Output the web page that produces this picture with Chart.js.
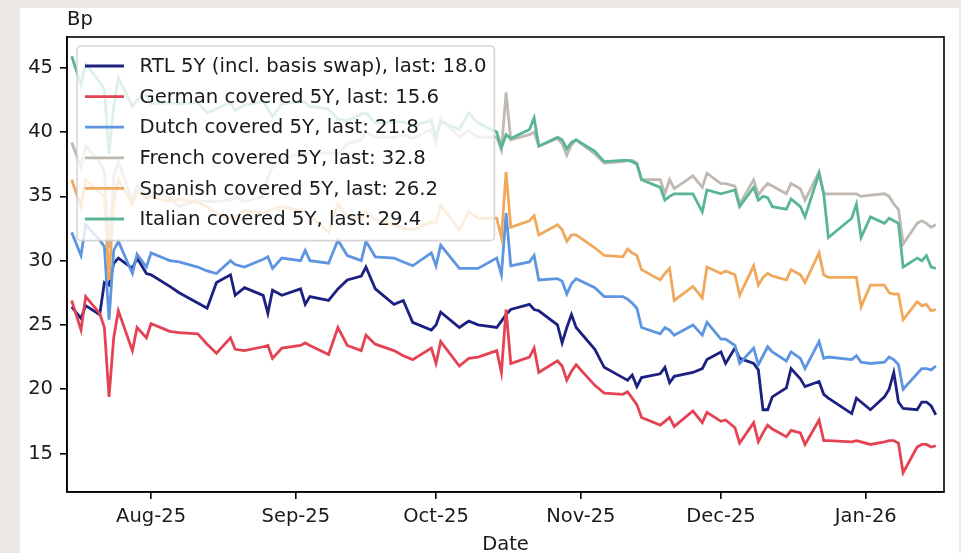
<!DOCTYPE html>
<html>
<head>
<meta charset="utf-8">
<title>Covered bond spreads 5Y</title>
<script src="https://cdn.jsdelivr.net/npm/chart.js@4.4.1/dist/chart.umd.min.js"></script>
<style>
  html, body { margin: 0; padding: 0; background: #ece8e5; overflow: hidden; }
  #panel { position: absolute; left: 20px; top: 8px; width: 939px; height: 545px; background: #fff; }
  #wrap { position: absolute; left: 0; top: 0; width: 961px; height: 553px; }
</style>
</head>
<body>
<div id="panel"></div>
<div id="wrap"><canvas id="myChart"></canvas></div>
<script>
// business days
const dates = [
  '2025-07-15','2025-07-17','2025-07-18','2025-07-21','2025-07-22','2025-07-23','2025-07-24','2025-07-25','2025-07-28','2025-07-29',
  '2025-07-31','2025-08-01','2025-08-05','2025-08-07','2025-08-11','2025-08-13','2025-08-15','2025-08-18','2025-08-19','2025-08-21',
  '2025-08-25','2025-08-26','2025-08-27','2025-08-29','2025-09-02','2025-09-03','2025-09-04','2025-09-08','2025-09-10','2025-09-12',
  '2025-09-15','2025-09-16','2025-09-18','2025-09-22','2025-09-24','2025-09-26','2025-09-30','2025-10-01','2025-10-02','2025-10-06',
  '2025-10-08','2025-10-10','2025-10-14','2025-10-15','2025-10-16','2025-10-17','2025-10-21','2025-10-22','2025-10-23','2025-10-27',
  '2025-10-28','2025-10-29','2025-10-30','2025-10-31','2025-11-04','2025-11-06','2025-11-10','2025-11-11','2025-11-12','2025-11-13',
  '2025-11-14','2025-11-18','2025-11-19','2025-11-20','2025-11-21','2025-11-25','2025-11-27','2025-11-28','2025-12-01','2025-12-02',
  '2025-12-04','2025-12-05','2025-12-08','2025-12-09','2025-12-10','2025-12-11','2025-12-12','2025-12-15','2025-12-16','2025-12-18',
  '2025-12-19','2025-12-22','2025-12-23','2025-12-24','2025-12-29','2025-12-30','2025-12-31','2026-01-02','2026-01-05','2026-01-06',
  '2026-01-07','2026-01-08','2026-01-09','2026-01-12','2026-01-13','2026-01-14','2026-01-15','2026-01-16'
];

const rtl = [
  26.4, 25.5, 26.5, 25.8, 28.3, 28.1, 29.8, 30.2, 29.4, 30.2,
  29.0, 28.9, 28.0, 27.5, 26.7, 26.3, 28.3, 28.9, 27.3, 27.9,
  27.3, 25.9, 27.7, 27.3, 27.8, 26.6, 27.2, 26.9, 27.8, 28.5,
  28.8, 29.5, 27.8, 26.6, 26.9, 25.2, 24.6, 25.0, 26.0, 24.8,
  25.3, 25.0, 24.8, 25.3, 25.8, 26.2, 26.6, 26.2, 26.1, 25.0,
  23.6, 24.8, 25.8, 24.8, 23.1, 21.7, 20.9, 20.7, 21.1, 20.2,
  20.9, 21.2, 21.7, 20.5, 21.0, 21.3, 21.6, 22.3, 22.9, 22.0,
  23.2, 22.4, 22.0, 21.5, 18.4, 18.4, 19.4, 20.1, 21.6, 20.8,
  20.2, 20.6, 19.6, 19.3, 18.1, 19.3, 19.0, 18.4, 19.4, 20.0,
  21.3, 19.0, 18.5, 18.4, 19.0, 19.0, 18.7, 18.0
];
const german = [
  26.9, 24.6, 27.2, 25.9, 24.8, 19.4, 24.0, 26.1, 23.0, 24.8,
  24.0, 25.1, 24.5, 24.4, 24.3, 23.5, 22.8, 24.0, 23.1, 23.0,
  23.3, 23.4, 22.4, 23.2, 23.4, 23.6, 23.4, 22.7, 24.8, 23.4,
  23.0, 24.2, 23.5, 23.0, 22.6, 22.3, 23.2, 22.0, 23.7, 21.8,
  22.4, 22.5, 23.0, 21.3, 26.2, 22.0, 22.5, 23.2, 21.3, 22.2,
  21.8, 20.7, 21.4, 21.9, 20.3, 19.7, 19.6, 19.8, 19.3, 18.8,
  17.8, 17.2, 17.5, 17.8, 17.1, 18.3, 17.4, 18.2, 17.5, 17.6,
  17.0, 15.8, 17.4, 15.9, 16.6, 17.2, 16.9, 16.3, 16.8, 16.6,
  15.7, 17.6, 16.0, 16.0, 15.9, 16.0, 15.9, 15.7, 15.9, 16.0,
  16.0, 15.8, 13.5, 15.5, 15.7, 15.7, 15.5, 15.6
];
const dutch = [
  32.2, 30.4, 32.8, 31.6, 31.1, 25.4, 30.8, 31.5, 29.0, 30.5,
  29.5, 30.6, 30.0, 29.9, 29.5, 29.2, 29.0, 30.0, 29.7, 29.5,
  30.1, 30.3, 29.4, 30.2, 30.0, 30.8, 30.0, 29.8, 31.6, 30.4,
  30.0, 31.5, 30.3, 30.2, 29.9, 29.6, 30.6, 29.6, 31.2, 29.4,
  29.4, 29.4, 30.2, 28.9, 33.7, 29.6, 29.9, 30.4, 28.5, 28.6,
  28.4, 27.4, 28.2, 28.6, 27.9, 27.2, 27.2, 27.0, 26.7, 26.3,
  24.8, 24.3, 24.8, 24.6, 24.2, 25.0, 24.2, 25.2, 23.9, 23.9,
  23.4, 22.0, 23.2, 21.9, 22.6, 23.3, 22.9, 22.2, 22.9, 22.4,
  21.6, 23.7, 22.4, 22.5, 22.3, 22.6, 22.1, 22.0, 22.1, 22.5,
  22.3, 21.9, 20.0, 21.2, 21.6, 21.6, 21.5, 21.8
];
const french = [
  39.2, 37.3, 38.9, 37.7, 36.9, 31.0, 36.5, 37.7, 34.7, 35.8,
  35.0, 35.3, 34.9, 34.2, 34.7, 34.6, 34.6, 34.7, 34.9, 34.6,
  35.0, 36.5, 37.3, 37.9, 38.3, 38.3, 38.3, 38.4, 38.3, 39.1,
  39.4, 40.0, 39.6, 39.6, 39.8, 39.5, 40.2, 39.2, 41.1, 39.6,
  40.1, 39.6, 39.6, 38.6, 43.1, 39.4, 39.8, 40.0, 38.9, 39.5,
  39.1, 38.2, 39.0, 39.4, 38.3, 37.6, 37.7, 37.8, 37.8, 37.6,
  36.3, 36.3, 35.2, 36.3, 35.6, 36.6, 35.7, 36.8, 36.0, 36.0,
  35.8, 34.4, 36.3, 35.1, 35.6, 36.0, 35.8, 35.2, 36.0, 35.6,
  34.7, 36.9, 35.2, 35.2, 35.2, 35.2, 35.0, 35.1, 35.2, 35.0,
  34.4, 34.0, 31.3, 32.9, 33.1, 32.9, 32.6, 32.8
];
const spanish = [
  36.3, 34.2, 36.3, 35.3, 35.0, 28.5, 34.5, 36.3, 34.4, 35.4,
  34.8, 35.0, 34.6, 34.8, 34.5, 34.2, 33.7, 33.3, 33.4, 33.9,
  33.7, 33.9, 34.0, 34.2, 33.9, 33.9, 33.5, 32.2, 34.4, 33.4,
  33.3, 33.8, 33.2, 32.8, 32.5, 32.4, 33.0, 32.9, 34.3, 32.4,
  33.8, 33.3, 33.3, 31.8, 36.9, 32.6, 33.1, 33.5, 32.0, 32.8,
  32.4, 31.5, 32.0, 32.0, 31.0, 30.4, 30.3, 30.9, 30.6, 30.4,
  29.3, 28.5, 29.0, 29.4, 26.9, 28.0, 27.1, 29.5, 29.0, 29.2,
  28.9, 27.3, 29.6, 28.1, 28.7, 29.0, 28.8, 28.5, 29.3, 28.9,
  28.3, 30.6, 28.9, 28.7, 28.7, 28.7, 26.4, 28.1, 28.1, 27.5,
  27.4, 27.4, 25.4, 26.8, 26.5, 26.6, 26.1, 26.2
];
const italian = [
  45.9, 43.7, 45.3, 43.9, 43.3, 38.3, 42.0, 44.2, 42.0, 42.5,
  42.9, 42.2, 42.3, 42.2, 42.3, 41.5, 41.8, 42.3, 41.7, 42.1,
  42.4, 41.8, 41.2, 42.2, 42.4, 42.3, 42.0, 41.8, 41.0, 40.9,
  41.4, 41.5, 40.7, 40.8, 40.8, 40.5, 40.9, 39.6, 40.8, 40.2,
  41.5, 40.7, 40.0, 38.8, 39.8, 39.5, 40.2, 41.1, 38.9, 39.6,
  39.4, 38.7, 39.2, 39.4, 38.5, 37.7, 37.8, 37.8, 37.7, 37.5,
  36.3, 35.7, 34.7, 35.0, 35.2, 35.2, 33.8, 35.5, 35.2, 35.3,
  35.5, 34.2, 35.7, 34.7, 35.0, 34.9, 34.2, 34.0, 34.8, 34.2,
  33.4, 36.8, 35.2, 31.8, 33.3, 34.4, 31.8, 33.4, 32.9, 33.3,
  33.1, 32.9, 29.5, 30.2, 30.0, 30.4, 29.5, 29.4
];

const seriesNames = [
  'RTL 5Y (incl. basis swap)',
  'German covered 5Y',
  'Dutch covered 5Y',
  'French covered 5Y',
  'Spanish covered 5Y',
  'Italian covered 5Y'
];
const seriesValues = [rtl, german, dutch, french, spanish, italian];
const seriesColors = ['#1c2080', '#e34353', '#5d95e0', '#bfb9b1', '#f0a95c', '#5ab595'];

const tickDates = ['2025-08-01', '2025-09-01', '2025-10-01', '2025-11-01', '2025-12-01', '2026-01-01'];
const tickLabels = ['Aug-25', 'Sep-25', 'Oct-25', 'Nov-25', 'Dec-25', 'Jan-26'];
const yTicks = [15, 20, 25, 30, 35, 40, 45];

const FONT = 'DejaVu Sans';
const toTime = (d) => Date.parse(d + 'T00:00:00Z');
const tickTimes = tickDates.map(toTime);

const datasets = seriesNames.map((name, i) => {
  let vals = seriesValues[i];
  return {
    label: name + ', last: ' + vals[vals.length - 1].toFixed(1),
    data: dates.map((d, k) => ({ x: toTime(d), y: vals[k] })),
    borderColor: seriesColors[i],
    backgroundColor: seriesColors[i],
    borderWidth: 2.8,
    pointRadius: 0,
    tension: 0,
    fill: false,
    order: seriesNames.length - i
  };
});

// axes frame, matplotlib style legend and the "Bp" label
const frameLegend = {
  id: 'frameLegend',
  afterDatasetsDraw(chart) {
    const { ctx, chartArea: a } = chart;
    ctx.save();
    ctx.strokeStyle = '#000';
    ctx.lineWidth = 1.6;
    ctx.strokeRect(a.left, a.top, a.right - a.left, a.bottom - a.top);

    ctx.font = '19.7px "' + FONT + '"';
    let textW = Math.max(...datasets.map((d) => ctx.measureText(d.label).width));
    let bx = a.left + 10, by = a.top + 9;
    let bw = 8 + 39 + 15.5 + textW + 8;
    let rowH = 30.6;
    let bh = rowH * datasets.length + 11;
    ctx.beginPath();
    ctx.roundRect(bx, by, bw, bh, 4);
    ctx.fillStyle = 'rgba(255,255,255,0.8)';
    ctx.fill();
    ctx.strokeStyle = 'rgba(204,204,204,0.8)';
    ctx.lineWidth = 1.6;
    ctx.stroke();

    ctx.textBaseline = 'middle';
    ctx.textAlign = 'left';
    datasets.forEach((d, i) => {
      let cy = by + 20 + i * rowH;
      ctx.strokeStyle = d.borderColor;
      ctx.lineWidth = 2.8;
      ctx.beginPath();
      ctx.moveTo(bx + 8, cy);
      ctx.lineTo(bx + 8 + 39, cy);
      ctx.stroke();
      ctx.fillStyle = '#1a1a1a';
      ctx.fillText(d.label, bx + 8 + 39 + 15.5, cy + 1);
    });

    ctx.font = '19.5px "' + FONT + '"';
    ctx.textBaseline = 'alphabetic';
    ctx.fillText('Bp', a.left, a.top - 12);
    ctx.textAlign = 'center';
    ctx.fillText('Date', (a.left + a.right) / 2, 550);
    ctx.restore();
  }
};

const tickStyle = { family: FONT, size: 19.5 };

new Chart(document.getElementById('myChart'), {
  type: 'line',
  data: { datasets: datasets },
  options: {
    responsive: true,
    maintainAspectRatio: false,
    devicePixelRatio: 1,
    animation: false,
    layout: { padding: { top: 37, right: 17, left: 0, bottom: 0 } },
    plugins: { legend: { display: false }, tooltip: { enabled: false } },
    scales: {
      x: {
        type: 'linear',
        min: toTime('2025-07-14'),
        max: toTime('2026-01-17') + 18 * 3600 * 1000,
        afterBuildTicks: (s) => { s.ticks = tickTimes.map((v) => ({ value: v })); },
        afterFit: (s) => { s.height = 61; },
        ticks: {
          autoSkip: false,
          maxRotation: 0,
          padding: 6,
          color: '#1a1a1a',
          font: tickStyle,
          callback: (v) => tickLabels[tickTimes.indexOf(v)]
        },
        grid: { drawOnChartArea: false, tickLength: 7, color: '#000', lineWidth: 1.6 },
        border: { display: true, color: '#000', width: 1.6 }
      },
      y: {
        min: 12,
        max: 47.4,
        afterBuildTicks: (s) => { s.ticks = yTicks.map((v) => ({ value: v })); },
        afterFit: (s) => { s.width = 67; },
        ticks: { padding: 7, color: '#1a1a1a', font: tickStyle },
        grid: { drawOnChartArea: false, tickLength: 7, color: '#000', lineWidth: 1.6 },
        border: { display: true, color: '#000', width: 1.6 }
      }
    }
  },
  plugins: [frameLegend]
});
</script>
</body>
</html>
